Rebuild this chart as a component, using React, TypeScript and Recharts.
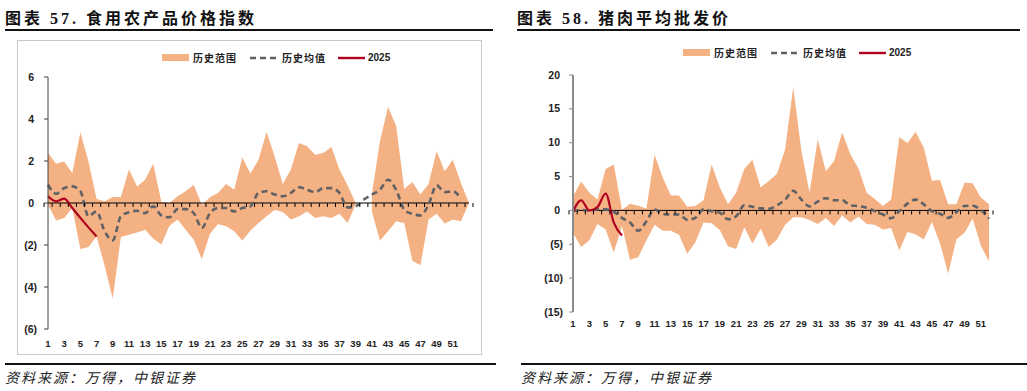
import React from 'react';
import { ComposedChart, Area, Line, XAxis, YAxis, ReferenceLine } from 'recharts';

// week numbers on the x axis
const weeksLeft = [1, 2, 3, 4, 5, 6, 7, 8, 9, 10, 11, 12, 13, 14, 15, 16, 17, 18, 19, 20, 21, 22, 23, 24, 25, 26, 27, 28, 29, 30, 31, 32, 33, 34, 35, 36, 37, 38, 39, 40, 41, 42, 43, 44, 45, 46, 47, 48, 49, 50, 51, 52, 53];
const weeksRight = [1, 2, 3, 4, 5, 6, 7, 8, 9, 10, 11, 12, 13, 14, 15, 16, 17, 18, 19, 20, 21, 22, 23, 24, 25, 26, 27, 28, 29, 30, 31, 32, 33, 34, 35, 36, 37, 38, 39, 40, 41, 42, 43, 44, 45, 46, 47, 48, 49, 50, 51, 52];

// 图表57 食用农产品价格指数
const foodHigh = [2.38, 1.87, 1.98, 1.43, 3.37, 1.98, 0.19, 0.08, 0.29, 0.29, 1.59, 0.79, 1.11, 1.87, 0.05, 0.0, 0.32, 0.56, 0.87, -0.1, 0.27, 0.48, 0.9, 0.63, 2.17, 1.4, 2.06, 3.38, 2.22, 0.9, 1.59, 2.86, 2.7, 2.3, 2.38, 2.67, 1.59, 0.84, 0, null, 0.4, 2.94, 4.57, 3.68, 0.67, 1.0, 0.4, 0.9, 2.46, 1.51, 2.06, 0.95, 0];
const foodLow = [-0.08, -0.83, -0.71, -0.24, -2.19, -2.1, -1.59, -3.0, -4.56, -1.62, -1.51, -1.4, -1.27, -1.7, -1.98, -1.08, -0.79, -1.27, -1.75, -2.67, -1.48, -1.0, -1.11, -1.35, -1.78, -1.32, -0.95, -0.63, -0.32, -0.43, -0.79, -0.63, -0.4, -0.71, -0.63, -0.71, -0.51, -0.95, -0.08, null, -0.4, -1.78, -1.35, -0.87, -0.95, -2.75, -2.97, -0.79, -0.51, -0.98, -0.79, -0.87, 0];
const foodAvg = [0.87, 0.44, 0.71, 0.79, 0.56, -0.63, -0.4, -1.35, -1.78, -0.63, -0.44, -0.37, -0.48, -0.16, -0.59, -0.68, -0.29, -0.29, -0.48, -1.19, -0.48, -0.24, -0.24, -0.4, -0.24, -0.16, 0.48, 0.56, 0.4, 0.32, 0.48, 0.75, 0.63, 0.52, 0.71, 0.71, 0.48, -0.21, -0.16, 0.16, 0.4, 0.63, 1.11, 0.63, -0.32, -0.52, -0.59, -0.08, 0.84, 0.52, 0.56, 0.21, null];
const food2025 = [0.32, 0.08, 0.21, -0.24, -0.71, -1.16, -1.59];

// 图表58 猪肉平均批发价
const porkHigh = [2.1, 4.26, 2.6, 1.6, 6.1, 6.8, 0.1, 1.0, 0.7, 0.3, 8.2, 4.85, 2.2, 2.2, 0.55, 0.65, 1.5, 6.8, 3.4, 0.9, 2.6, 6.1, 7.5, 3.4, 4.35, 5.4, 9.0, 18.2, 8.8, 2.6, 10.5, 5.8, 7.3, 11.5, 8.3, 6.2, 2.6, 1.7, 0.65, 1.6, 10.8, 9.95, 11.6, 9.3, 4.4, 4.5, 0.9, 0.9, 4.1, 4.0, 1.9, 0.9];
const porkLow = [-3.3, -5.4, -4.4, -2.0, -2.8, -6.2, -2.3, -7.3, -6.9, -4.4, -2.1, -3.0, -3.0, -3.6, -6.4, -4.7, -1.8, -1.9, -2.9, -5.3, -5.7, -2.5, -4.9, -2.7, -5.4, -4.3, -2.1, -1.0, -1.0, -1.4, -2.0, -1.1, -2.3, -0.75, -1.8, -0.9, -2.0, -2.1, -2.8, -2.6, -5.9, -3.2, -3.5, -4.3, -1.7, -4.9, -9.3, -4.3, -3.3, -1.2, -5.2, -7.5];
const porkAvg = [-0.1, 0.05, 0, 0.15, 0.15, -0.2, -1.1, -1.8, -3.0, -1.6, 0.15, -0.5, -0.6, -0.6, -1.4, -1.1, 0.15, -0.1, -0.35, -1.3, -0.85, 0.75, 0.55, 0.3, 0.25, 0.75, 1.6, 2.9, 1.6, 0.6, 1.3, 1.8, 1.5, 1.5, 0.75, 0.65, 0.4, -0.1, -0.6, -1.15, -0.1, 1.0, 1.6, 0.9, -0.1, -0.5, -1.1, -0.25, 0.65, 0.7, 0.05, -1.2];
const pork2025 = [-0.2, 1.5, 0, 0.5, 2.5, -1.8, -3.7];

const foodTicks = [-6, -4, -2, 0, 2, 4, 6];
const porkTicks = [-15, -10, -5, 0, 5, 10, 15, 20];

const RANGE_COLOR = '#F4B183';
const AVG_COLOR = '#5E6166';
const CUR_COLOR = '#B00020';
const LABEL_FONT = '"Liberation Sans", Arial, sans-serif';
const CJK_FONT = '"Liberation Serif", "Noto Sans CJK SC", serif';

const buildRows = (weeks: number[], hi: (number | null)[], lo: (number | null)[], avg: (number | null)[], cur: number[]) =>
  weeks.map((w, i) => ({
    week: w,
    range: hi[i] == null || lo[i] == null ? null : [lo[i], hi[i]],
    avg: avg[i] ?? null,
    cur: i < cur.length ? cur[i] : null,
  }));

interface PanelProps {
  rows: any[];
  width: number;
  height: number;
  margin: { top: number; right: number; bottom: number; left: number };
  domain: [number, number];
  ticks: number[];
  axisColor: string;
  axisWidth: number;
  posGap: number;
  negGap: number;
  labelDy: number;
}

const Panel: React.FC<PanelProps> = ({ rows, width, height, margin, domain, ticks, axisColor, axisWidth, posGap, negGap, labelDy }) => {
  const plotW = width - margin.left - 30 - margin.right;
  const plotH = height - margin.top - margin.bottom - 20;
  const band = plotW / rows.length;
  const zeroY = margin.top + (plotH * domain[1]) / (domain[1] - domain[0]);

  const XTick = (props: any) => {
    const { x, y, payload, index } = props;
    const v = payload.value;
    const showLabel = v % 2 === 1 && v <= 51;
    return (
      <g>
        <line x1={x - band / 2} x2={x - band / 2} y1={zeroY} y2={zeroY + 4} stroke="#000" strokeWidth={1} />
        {index === rows.length - 1 && (
          <line x1={x + band / 2} x2={x + band / 2} y1={zeroY} y2={zeroY + 4} stroke="#000" strokeWidth={1} />
        )}
        {showLabel && (
          <text x={x} y={y + labelDy} textAnchor="middle" fontSize={9.5} fontWeight={700} fill="#222" fontFamily={LABEL_FONT}>
            {v}
          </text>
        )}
      </g>
    );
  };

  const YTick = (props: any) => {
    const { x, y, payload } = props;
    const v = payload.value;
    const label = v < 0 ? `(${Math.abs(v)})` : `${v}`;
    return (
      <text x={x - (v < 0 ? negGap : posGap)} y={y} dy={3.5} textAnchor="end" fontSize={10.5} fontWeight={700} fill="#222" fontFamily={LABEL_FONT}>
        {label}
      </text>
    );
  };

  return (
    <ComposedChart width={width} height={height} data={rows} margin={margin}>
      <XAxis dataKey="week" type="category" interval={0} height={20} axisLine={false} tickLine={false} tickSize={0} tickMargin={0} tick={<XTick />} />
      <YAxis
        type="number"
        domain={domain}
        ticks={ticks}
        width={30}
        tickSize={4}
        tickMargin={0}
        axisLine={{ stroke: axisColor, strokeWidth: axisWidth }}
        tickLine={{ stroke: axisColor, strokeWidth: 1 }}
        tick={<YTick />}
        allowDataOverflow
      />
      <Area dataKey="range" stroke="none" fill={RANGE_COLOR} fillOpacity={1} isAnimationActive={false} connectNulls={false} />
      <ReferenceLine y={0} stroke="#000" strokeWidth={1} />
      <Line dataKey="avg" type="monotone" stroke={AVG_COLOR} strokeWidth={2.6} strokeDasharray="6 4" dot={false} isAnimationActive={false} />
      <Line dataKey="cur" type="monotone" stroke={CUR_COLOR} strokeWidth={2.2} dot={false} isAnimationActive={false} />
    </ComposedChart>
  );
};

const LegendRow: React.FC<{ left: number; top: number }> = ({ left, top }) => (
  <div style={{ position: 'absolute', left, top, display: 'flex', alignItems: 'center', fontSize: 10, fontWeight: 700, color: '#222', whiteSpace: 'nowrap' }}>
    <span style={{ width: 27, height: 7, background: RANGE_COLOR, display: 'inline-block' }} />
    <span style={{ marginLeft: 4, fontFamily: CJK_FONT, letterSpacing: 1 }}>历史范围</span>
    <svg width={27} height={6} style={{ marginLeft: 13 }}>
      <line x1={0} x2={27} y1={3} y2={3} stroke={AVG_COLOR} strokeWidth={2.6} strokeDasharray="6 4" />
    </svg>
    <span style={{ marginLeft: 5, fontFamily: CJK_FONT, letterSpacing: 1 }}>历史均值</span>
    <svg width={27} height={6} style={{ marginLeft: 12 }}>
      <line x1={0} x2={27} y1={3} y2={3} stroke={CUR_COLOR} strokeWidth={2.4} />
    </svg>
    <span style={{ marginLeft: 3, fontFamily: LABEL_FONT }}>2025</span>
  </div>
);

const titleStyle: React.CSSProperties = {
  position: 'absolute',
  top: 5,
  fontSize: 16,
  fontWeight: 700,
  letterSpacing: 3,
  fontFamily: CJK_FONT,
  color: '#111',
  whiteSpace: 'nowrap',
};

const sourceStyle: React.CSSProperties = {
  position: 'absolute',
  top: 367,
  fontSize: 14,
  fontStyle: 'italic',
  letterSpacing: 2,
  fontFamily: '"Noto Sans CJK SC", sans-serif',
  color: '#222',
  whiteSpace: 'nowrap',
};

export default function App() {
  const foodRows = buildRows(weeksLeft, foodHigh, foodLow, foodAvg, food2025);
  const porkRows = buildRows(weeksRight, porkHigh, porkLow, porkAvg, pork2025);

  return (
    <div style={{ position: 'absolute', left: 0, top: 0, width: 1027, height: 391, background: '#fff', overflow: 'hidden' }}>
      <div style={{ ...titleStyle, left: 5 }}>图表 57. 食用农产品价格指数</div>
      <div style={{ position: 'absolute', left: 5, top: 29, width: 488, height: 2, background: '#111' }} />
      <div style={{ ...titleStyle, left: 517 }}>图表 58. 猪肉平均批发价</div>
      <div style={{ position: 'absolute', left: 517, top: 29, width: 503, height: 2, background: '#111' }} />

      <div style={{ position: 'absolute', left: 17, top: 40, width: 463, height: 313, border: '1px solid #c8c8c8' }} />

      <div style={{ position: 'absolute', left: 0, top: 0 }}>
        <Panel rows={foodRows} width={490} height={360} margin={{ top: 77, right: 21, bottom: 11, left: 18 }} domain={[-6, 6]} ticks={foodTicks} axisColor="#404040" axisWidth={1} posGap={10} negGap={7} labelDy={18} />
      </div>
      <div style={{ position: 'absolute', left: 520, top: 0 }}>
        <Panel rows={porkRows} width={480} height={360} margin={{ top: 75, right: 11, bottom: 28, left: 23 }} domain={[-15, 20]} ticks={porkTicks} axisColor="#8c8c8c" axisWidth={2} posGap={9} negGap={6} labelDy={15} />
      </div>

      <LegendRow left={162} top={50} />
      <LegendRow left={683} top={45} />

      <div style={{ position: 'absolute', left: 5, top: 363, width: 491, height: 2, background: '#111' }} />
      <div style={{ position: 'absolute', left: 521, top: 363, width: 506, height: 2, background: '#111' }} />
      <div style={{ ...sourceStyle, left: 5 }}>资料来源：万得，中银证券</div>
      <div style={{ ...sourceStyle, left: 521 }}>资料来源：万得，中银证券</div>
    </div>
  );
}
